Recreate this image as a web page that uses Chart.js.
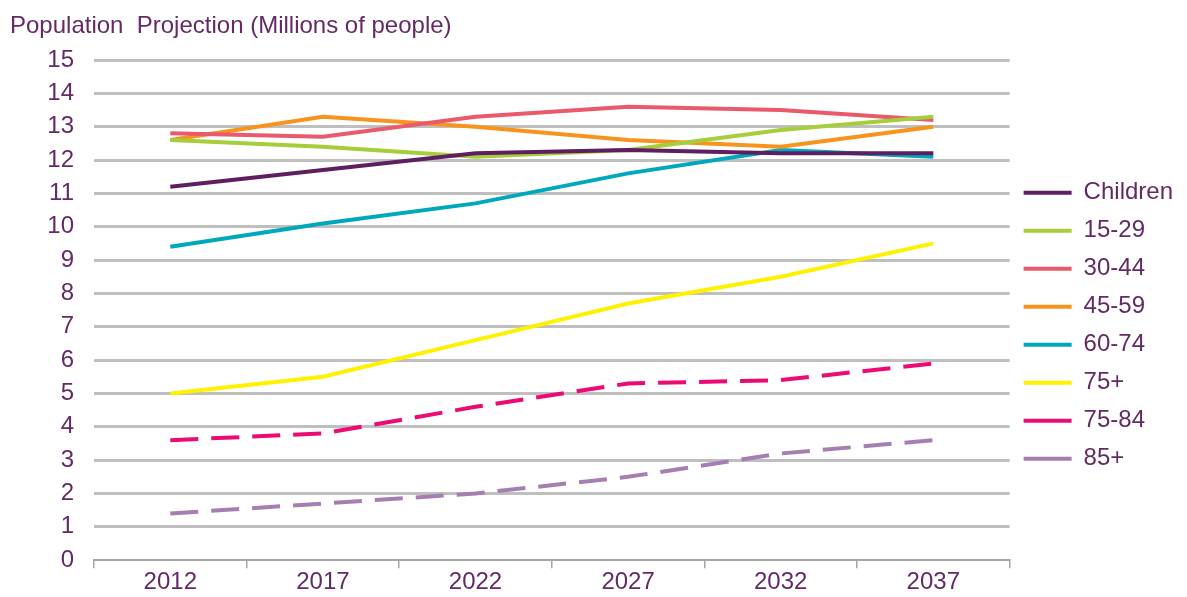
<!DOCTYPE html>
<html>
<head>
<meta charset="utf-8">
<script src="https://cdn.jsdelivr.net/npm/chart.js@4.4.0/dist/chart.umd.min.js"></script>
<style>
  html, body { margin: 0; padding: 0; background: #ffffff; }
  #wrap { width: 1187px; height: 597px; }
</style>
</head>
<body>
<div id="wrap"><canvas id="popChart"></canvas></div>
<script>
const years = ["2012", "2017", "2022", "2027", "2032", "2037"];
const children = [11.2, 11.7, 12.2, 12.3, 12.2, 12.2];
const age15to29 = [12.6, 12.4, 12.1, 12.3, 12.9, 13.3];
const age30to44 = [12.8, 12.7, 13.3, 13.6, 13.5, 13.2];
const age45to59 = [12.6, 13.3, 13.0, 12.6, 12.4, 13.0];
const age60to74 = [9.4, 10.1, 10.7, 11.6, 12.3, 12.1];
const age75plus = [5.0, 5.5, 6.6, 7.7, 8.5, 9.5];
const age75to84 = [3.6, 3.8, 4.6, 5.3, 5.4, 5.9];
const age85plus = [1.4, 1.7, 2.0, 2.5, 3.2, 3.6];
const yTicks = [0, 1, 2, 3, 4, 5, 6, 7, 8, 9, 10, 11, 12, 13, 14, 15];

const textColor = "#632a66";
const fontFamily = "'Liberation Sans', Arial, sans-serif";

function series(label, data, color, dash) {
  return {
    label: label,
    data: data,
    borderColor: color,
    backgroundColor: color,
    borderWidth: 4,
    borderDash: dash || [],
    borderCapStyle: "butt",
    pointRadius: 0,
    pointHoverRadius: 0,
    tension: 0,
    fill: false
  };
}

new Chart(document.querySelector("#popChart"), {
  type: "line",
  data: {
    labels: years,
    datasets: [
      series("Children", children, "#5e1f60"),
      series("15-29", age15to29, "#a6cd3a"),
      series("30-44", age30to44, "#e85a6c"),
      series("45-59", age45to59, "#f7941e"),
      series("60-74", age60to74, "#00a8bd"),
      series("75+", age75plus, "#fff200"),
      series("75-84", age75to84, "#ec0a74", [28, 13]),
      series("85+", age85plus, "#a67fb2", [28, 13])
    ]
  },
  options: {
    responsive: true,
    maintainAspectRatio: false,
    animation: false,
    layout: { padding: { left: 10, right: 4, top: 0, bottom: 0 } },
    plugins: {
      title: {
        display: true,
        text: "Population  Projection (Millions of people)",
        align: "start",
        color: textColor,
        font: { family: fontFamily, size: 24, weight: "normal" },
        padding: { top: 12, bottom: 19.2 }
      },
      legend: {
        position: "right",
        align: "center",
        title: {
          // empty title only pushes the items down
          display: true,
          text: "",
          font: { size: 12 },
          padding: { top: 0, bottom: 40 }
        },
        labels: {
          color: textColor,
          font: { family: fontFamily, size: 24 },
          usePointStyle: true,
          pointStyle: "line",
          pointStyleWidth: 48,
          padding: 14
        }
      },
      tooltip: { enabled: false }
    },
    scales: {
      x: {
        offset: true,
        grid: {
          offset: true,
          drawOnChartArea: false,
          drawTicks: true,
          tickLength: 8,
          color: "#a6a6a6",
          lineWidth: 1.5
        },
        border: { display: true, color: "#a6a6a6", width: 2 },
        ticks: {
          color: textColor,
          font: { family: fontFamily, size: 24 },
          padding: 0,
          maxRotation: 0
        }
      },
      y: {
        min: 0,
        max: 15,
        afterBuildTicks: (scale) => {
          scale.ticks = yTicks.map((v) => ({ value: v }));
        },
        afterFit: (scale) => {
          scale.width = 84;
        },
        grid: {
          drawTicks: false,
          color: (ctx) => (ctx.tick && ctx.tick.value === 0 ? "rgba(0,0,0,0)" : "#bfbfbf"),
          lineWidth: 3
        },
        border: { display: false },
        ticks: {
          color: textColor,
          font: { family: fontFamily, size: 24 },
          padding: 20
        }
      }
    }
  }
});
</script>
</body>
</html>
